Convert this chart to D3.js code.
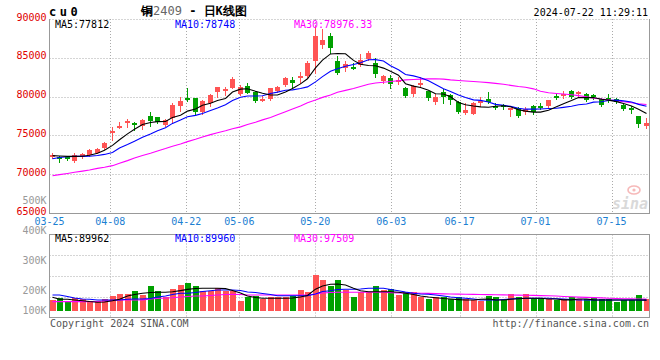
<!DOCTYPE html>
<html>
<head>
<meta charset="utf-8">
<script src="https://cdn.jsdelivr.net/npm/d3@7"></script>
<style>
  html, body { margin: 0; padding: 0; background: #fff; }
  svg { display: block; }
  text { font-family: 'DejaVu Sans Mono', 'Liberation Mono', monospace; }
</style>
</head>
<body>
<svg id="chart" width="660" height="360"></svg>
<script>
// trading days shown (cu0 daily K line)
const dates = [
  '03-25', '03-26', '03-27', '03-28', '03-29', '04-01', '04-02', '04-03',
  '04-08', '04-09', '04-10', '04-11', '04-12', '04-15', '04-16', '04-17', '04-18', '04-19',
  '04-22', '04-23', '04-24', '04-25', '04-26', '04-29', '04-30',
  '05-06', '05-07', '05-08', '05-09', '05-10', '05-13', '05-14', '05-15', '05-16', '05-17',
  '05-20', '05-21', '05-22', '05-23', '05-24', '05-27', '05-28', '05-29', '05-30', '05-31',
  '06-03', '06-04', '06-05', '06-06', '06-07', '06-11', '06-12', '06-13', '06-14',
  '06-17', '06-18', '06-19', '06-20', '06-21', '06-24', '06-25', '06-26', '06-27', '06-28',
  '07-01', '07-02', '07-03', '07-04', '07-05', '07-08', '07-09', '07-10', '07-11', '07-12',
  '07-15', '07-16', '07-17', '07-18', '07-19', '07-22'
]
const dateTicks = ['03-25', '04-08', '04-22', '05-06', '05-20', '06-03', '06-17', '07-01', '07-15']
const priceTicks = [90000, 85000, 80000, 75000, 70000, 65000]
const volumeTicks = [500, 400, 300, 200, 100]

const open = [
  72190, 72270, 72270, 71760, 72190, 72490, 72790, 73340, 75270, 76090,
  76640, 76640, 76220, 77500, 77330, 76340, 77200, 78790, 79820, 79770,
  77970, 79210, 80630, 80760, 81140, 80330, 81360, 80630, 79470, 79690,
  80710, 81490, 82130, 82470, 82640, 84610, 86630, 87780, 84570, 83630,
  83760, 84060, 84830, 84360, 82040, 82340, 81910, 81100, 80330, 81570,
  80710, 79340, 80640, 80210, 79360, 77910, 77790, 79150, 79700, 78850,
  78940, 78340, 78510, 78000, 78850, 78850, 78760, 80130, 80210, 80680,
  80380, 80280, 80190, 79680, 79850, 79680, 78900, 78480, 77530, 76240
]
const high = [
  72700, 72400, 72360, 72700, 72700, 73260, 73430, 74120, 76130, 76770,
  77070, 76770, 77070, 78010, 77420, 77160, 79130, 79990, 81060, 79860,
  79560, 80330, 81270, 81270, 82470, 81440, 81700, 80710, 80070, 81140,
  81400, 82560, 82470, 83200, 84570, 89050, 88770, 88150, 85210, 84570,
  84270, 85470, 85900, 84910, 82770, 82770, 82470, 81190, 81490, 82560,
  80710, 80330, 80980, 80340, 79490, 79150, 79280, 80000, 80550, 79150,
  79060, 78510, 78640, 78640, 78980, 79150, 79620, 80430, 80680, 80850,
  80680, 80400, 80330, 79850, 80280, 79800, 79030, 78780, 77530, 77190
]
const low = [
  72060, 71630, 71850, 71630, 72100, 72400, 72700, 73260, 74420, 75900,
  76060, 75700, 75780, 76220, 76560, 76220, 76770, 78190, 79470, 77760,
  77760, 78790, 79900, 80200, 81060, 80200, 80420, 79260, 79430, 79560,
  80630, 81400, 81060, 81700, 82560, 83000, 86200, 85570, 82860, 83290,
  83500, 83970, 84700, 82470, 81700, 81060, 81610, 79990, 80070, 81270,
  79560, 79040, 79150, 79060, 77910, 77790, 77700, 78850, 79150, 78420,
  78420, 77450, 77360, 77790, 77790, 78420, 78640, 79700, 79790, 79830,
  80000, 79400, 79700, 78770, 79250, 79150, 78260, 77830, 76110, 75980
]
const close = [
  72490, 71930, 72060, 72490, 72570, 73130, 73300, 73990, 75570, 76220,
  76900, 76300, 76990, 76900, 76770, 76990, 78910, 79430, 79560, 78060,
  79430, 80200, 81190, 80930, 82220, 81270, 80500, 79470, 79730, 81060,
  81270, 82430, 81780, 82640, 84360, 87800, 87270, 86290, 83070, 84190,
  83540, 84700, 85560, 82900, 82640, 81570, 82130, 80070, 81360, 81700,
  79770, 79990, 79910, 79570, 78000, 78300, 79150, 79400, 79280, 78640,
  78640, 78510, 77450, 78420, 78000, 78640, 79620, 79830, 80380, 80000,
  80550, 79550, 80060, 78905, 79680, 79250, 78390, 78350, 76420, 76550
]

const ma5 = [
  72400, 72350, 72300, 72300, 72310, 72440, 72710, 73100, 73710, 74440,
  75200, 75800, 76400, 76660, 76770, 76790, 77310, 77600, 78130, 78390,
  78880, 79140, 79490, 79760, 80590, 80960, 81020, 80680, 80440, 80210,
  80210, 80590, 81050, 81640, 82300, 83700, 84700, 85500, 85560, 85520,
  84670, 84160, 84010, 83980, 83670, 83270, 82760, 81660, 81350, 81170,
  80810, 80370, 80340, 79980, 79240, 78950, 78790, 78680, 78630, 78750,
  78820, 78690, 78300, 78130, 78000, 78000, 78230, 78700, 79090, 79490,
  79880, 79870, 79880, 79650, 79550, 79350, 79100, 78800, 78380, 77812
]
const ma10 = [
  72000, 72150, 72250, 72300, 72300, 72320, 72400, 72550, 72800, 73380,
  73820, 74250, 74750, 75190, 75610, 75990, 76550, 77000, 77400, 77580,
  77830, 78220, 78540, 78950, 79490, 79920, 80080, 80080, 80100, 80400,
  80580, 80810, 80870, 81040, 81250, 81900, 82580, 83260, 83600, 83910,
  84140, 84360, 84740, 84770, 84590, 83970, 83460, 82840, 82670, 82420,
  82040, 81570, 81000, 80670, 80200, 79880, 79580, 79510, 79300, 79000,
  78880, 78740, 78490, 78380, 78380, 78410, 78460, 78500, 78610, 78750,
  78940, 79050, 79290, 79340, 79490, 79550, 79450, 79300, 79000, 78748
]
const ma30 = [
  69800, 69950, 70100, 70250, 70400, 70550, 70750, 70900, 71100, 71400,
  71750, 72100, 72400, 72700, 73000, 73300, 73600, 73900, 74200, 74500,
  74800, 75100, 75350, 75600, 75850, 76100, 76400, 76700, 77000, 77300,
  77650, 78050, 78400, 78800, 79200, 79550, 79900, 80200, 80550, 80800,
  81050, 81300, 81600, 81750, 81850, 81950, 82050, 82150, 82200, 82250,
  82280, 82300, 82250, 82150, 82080, 82020, 81950, 81880, 81800, 81700,
  81600, 81450, 81300, 81200, 81000, 80700, 80500, 80400, 80330, 80230,
  80130, 79980, 79800, 79700, 79580, 79470, 79330, 79200, 79080, 78976.33
]

// volume, thousands of lots
const volume = [
  93, 110, 77, 111, 95, 86, 82, 99, 124, 140,
  140, 165, 132, 206, 165, 115, 181, 214, 233, 206,
  167, 167, 187, 167, 167, 85, 118, 126, 95, 115,
  119, 115, 124, 173, 156, 297, 255, 210, 255, 173,
  118, 154, 154, 208, 173, 181, 132, 154, 154, 118,
  99, 118, 118, 96, 118, 99, 91, 85, 126, 113,
  91, 140, 118, 140, 105, 105, 99, 91, 99, 113,
  99, 99, 105, 99, 99, 77, 91, 91, 132, 99
]
const volMa5 = [
  112.8, 96.4, 96.4, 90.6, 84.8, 78, 71.7, 74, 84.8, 96.4,
  123.6, 136, 145.8, 152.4, 154, 154, 158, 168, 178, 185,
  187, 187, 187, 184, 169, 148.3, 123.6, 111.2, 104.6, 104.6,
  104.6, 104.6, 107.1, 115.3, 127.7, 180, 205.9, 219.9, 222.4, 214.2,
  187, 167.2, 159, 159, 159, 159, 154, 145.8, 136, 123.6,
  115.3, 109.6, 103, 98.8, 94, 90.6, 90.6, 96.4, 98.8, 92,
  90.6, 96.4, 101.3, 104.6, 104.6, 104.6, 98.8, 98.8, 92, 92,
  98.8, 98.8, 92, 90.6, 90.6, 90.6, 90.6, 90.6, 90.6, 89.962
]
const volMa10 = [
  131.8, 131.8, 119.4, 107.1, 98.8, 96.4, 90.6, 90.6, 90.6, 90.6,
  96.4, 98.8, 98.8, 103, 115.3, 123.6, 135.9, 145.8, 145.8, 152.4,
  160.6, 167.2, 173, 173, 173, 168.9, 156.5, 152.4, 144.1, 135.9,
  126, 126, 126, 126, 126, 140, 160.6, 167.2, 177.1, 178.7,
  178.7, 181.2, 187, 187, 187, 177.1, 167.2, 156.5, 145.8, 140,
  137.6, 131.8, 123.6, 115.3, 109.6, 104.6, 98.8, 92, 90.6, 90.6,
  94.7, 98.8, 103, 104.6, 104.6, 104.6, 104.6, 101.3, 98.8, 94.7,
  90.6, 90.6, 90.6, 90.6, 90.6, 90.6, 90.6, 90.6, 90.6, 89.96
]
const volMa30 = [
  77, 77, 77, 77, 77, 77, 78.3, 82.4, 86.5, 90.6,
  90.6, 90.6, 92, 98.8, 103, 107.1, 109.6, 115.3, 119.4, 123.6,
  123.6, 127.7, 131.8, 135.9, 137.6, 135.9, 131.8, 131.8, 131.8, 131.8,
  131.8, 131.8, 131.8, 131.8, 131.8, 140, 148.3, 152.4, 154, 154,
  154, 154, 154, 154, 154, 151, 149, 148, 147, 146,
  145, 143, 141, 140, 139, 138, 137, 136, 135, 134,
  133, 132, 131, 130, 129, 127, 125, 123, 120, 117,
  114, 112, 110, 108, 105, 103, 101, 100, 98.6, 97.509
]

const RED = '#ff5454'
const GREEN = '#00a000'
const GRID = '#aaaaaa'
const FRAME = '#999999'

const svg = d3.select('#chart')
const left = 49.5, right = 649.5
const mainTop = 19, mainBottom = 213
const volTop = 234.5, volBottom = 317.5, volBase = 311

// candles sit in bands, grid/date ticks use a point scale (as on sina's chart)
const xBand = d3.scaleBand().domain(dates).range([48, right])
const xTick = d3.scalePoint().domain(dates).range([left, right])
const yPrice = d3.scaleLinear().domain([65000, 90000]).range([mainBottom, mainTop])
const yVol = d3.scaleLinear().domain([0, 630]).range([volBase, volTop])
const yVolLabel = d3.scaleLinear().domain([200, 500]).range([290, 200])
const cx = (d) => Math.round(xBand(d) + xBand.bandwidth() / 2)
const crisp = (v) => Math.round(v) + 0.5

// ---- header
svg.append('text').attr('x', 49).attr('y', 15.5).attr('font-size', 12).attr('font-weight', 700)
  .attr('letter-spacing', 3.5).attr('fill', '#000').text('cu0')
const title = svg.append('text').attr('x', 141).attr('y', 15).attr('font-size', 12)
  .attr('font-family', "'DejaVu Sans Mono', 'Noto Sans CJK SC', monospace")
title.append('tspan').attr('fill', '#000').attr('font-weight', 700).text('铜')
title.append('tspan').attr('fill', '#666').text('2409')
title.append('tspan').attr('fill', '#000').attr('font-weight', 700).text(' - 日K线图')
svg.append('text').attr('x', 648).attr('y', 15.5).attr('text-anchor', 'end').attr('font-size', 10)
  .attr('fill', '#000').text('2024-07-22 11:29:11')

// ---- main panel grid
const mainGrid = svg.append('g').attr('stroke', GRID).attr('stroke-dasharray', '1,2').attr('fill', 'none')
mainGrid.selectAll('line.h').data(priceTicks.slice(0, -1)).join('line').attr('class', 'h')
  .attr('x1', left).attr('x2', right).attr('y1', (v) => crisp(yPrice(v))).attr('y2', (v) => crisp(yPrice(v)))
mainGrid.selectAll('line.v').data(dateTicks.slice(1)).join('line').attr('class', 'v')
  .attr('x1', (d) => crisp(xTick(d))).attr('x2', (d) => crisp(xTick(d)))
  .attr('y1', mainTop).attr('y2', mainBottom)

const mainFrame = svg.append('g').attr('stroke', FRAME).attr('fill', 'none').attr('shape-rendering', 'crispEdges')
mainFrame.append('line').attr('x1', left).attr('x2', left).attr('y1', mainTop).attr('y2', crisp(mainBottom))
mainFrame.append('line').attr('x1', right).attr('x2', right).attr('y1', mainTop).attr('y2', crisp(mainBottom))
mainFrame.append('line').attr('x1', left).attr('x2', right).attr('y1', crisp(mainBottom)).attr('y2', crisp(mainBottom))

// watermark
const mark = svg.append('g').attr('opacity', 0.55)
mark.append('ellipse').attr('cx', 634).attr('cy', 190).attr('rx', 6).attr('ry', 4)
  .attr('fill', 'none').attr('stroke', '#f08080').attr('stroke-width', 1.6)
mark.append('circle').attr('cx', 634).attr('cy', 190).attr('r', 1.6).attr('fill', '#f08080')
mark.append('text').attr('x', 648).attr('y', 209).attr('text-anchor', 'end')
  .attr('font-family', "'DejaVu Sans', sans-serif").attr('font-style', 'italic').attr('font-weight', 700)
  .attr('font-size', 15).attr('fill', '#bbbbbb').text('sina')

// price axis labels
svg.append('g').selectAll('text').data(priceTicks).join('text')
  .attr('x', 46.5).attr('y', (v) => yPrice(v) + 1.5).attr('text-anchor', 'end')
  .attr('font-size', 10).attr('fill', '#e00000').text((v) => v)

// date labels
svg.append('g').selectAll('text').data(dateTicks).join('text')
  .attr('x', (d) => xTick(d)).attr('y', 224.5).attr('text-anchor', 'middle')
  .attr('font-size', 10).attr('fill', '#1c80d2').text((d) => d)

// ---- candles
const bars = dates.map((d, i) => ({ d, o: open[i], h: high[i], l: low[i], c: close[i], v: volume[i] }))
const candles = svg.append('g').attr('shape-rendering', 'crispEdges')
  .selectAll('g').data(bars).join('g')
  .attr('fill', (b) => (b.c >= b.o ? RED : GREEN)).attr('stroke', (b) => (b.c >= b.o ? RED : GREEN))
candles.append('line')
  .attr('x1', (b) => cx(b.d) + 0.5).attr('x2', (b) => cx(b.d) + 0.5)
  .attr('y1', (b) => Math.round(yPrice(b.h))).attr('y2', (b) => Math.round(yPrice(b.l)) + 1)
candles.append('rect')
  .attr('stroke', 'none')
  .attr('x', (b) => cx(b.d) - 2).attr('width', 5)
  .attr('y', (b) => Math.round(yPrice(Math.max(b.o, b.c))))
  .attr('height', (b) => Math.max(2, Math.round(yPrice(Math.min(b.o, b.c))) - Math.round(yPrice(Math.max(b.o, b.c)))))

// ---- price moving averages
const priceLine = d3.line().x((v, i) => cx(dates[i]) + 0.5).y((v) => yPrice(v))
const maSeries = [
  { name: 'MA5', values: ma5, color: '#000000', x: 55 },
  { name: 'MA10', values: ma10, color: '#0000ff', x: 175 },
  { name: 'MA30', values: ma30, color: '#ff00ff', x: 294 }
]
svg.append('g').attr('fill', 'none').selectAll('path').data(maSeries.slice().reverse()).join('path')
  .attr('stroke', (s) => s.color).attr('stroke-width', 1.1).attr('d', (s) => priceLine(s.values))
svg.append('g').selectAll('text').data(maSeries).join('text')
  .attr('x', (s) => s.x).attr('y', 27.5).attr('font-size', 10).attr('fill', (s) => s.color)
  .text((s) => `${s.name}:${s.values[s.values.length - 1]}`)

// ---- volume panel
const volGrid = svg.append('g').attr('stroke', GRID).attr('stroke-dasharray', '1,2').attr('fill', 'none')
volGrid.selectAll('line.h').data(d3.range(1, 4)).join('line').attr('class', 'h')
  .attr('x1', left).attr('x2', right)
  .attr('y1', (k) => crisp(volTop + (k * (volBottom - volTop)) / 4)).attr('y2', (k) => crisp(volTop + (k * (volBottom - volTop)) / 4))
volGrid.selectAll('line.v').data(dateTicks.slice(1)).join('line').attr('class', 'v')
  .attr('x1', (d) => crisp(xTick(d))).attr('x2', (d) => crisp(xTick(d)))
  .attr('y1', volTop).attr('y2', volBottom)

svg.append('g').attr('shape-rendering', 'crispEdges').selectAll('rect').data(bars).join('rect')
  .attr('x', (b) => cx(b.d) - 2.5).attr('width', 6)
  .attr('y', (b) => Math.round(yVol(b.v))).attr('height', (b) => volBase - Math.round(yVol(b.v)))
  .attr('fill', (b) => (b.c >= b.o ? RED : GREEN))

const volLine = d3.line().x((v, i) => cx(dates[i]) + 0.5).y((v) => yVol(v))
const volSeries = [
  { name: 'MA5', values: volMa5, color: '#000000', x: 55 },
  { name: 'MA10', values: volMa10, color: '#0000ff', x: 175 },
  { name: 'MA30', values: volMa30, color: '#ff00ff', x: 294 }
]
svg.append('g').attr('fill', 'none').selectAll('path').data(volSeries.slice().reverse()).join('path')
  .attr('stroke', (s) => s.color).attr('stroke-width', 1.1).attr('d', (s) => volLine(s.values))

svg.append('rect').attr('x', left).attr('y', volTop).attr('width', right - left).attr('height', volBottom - volTop)
  .attr('fill', 'none').attr('stroke', FRAME).attr('shape-rendering', 'crispEdges')

svg.append('g').selectAll('text').data(volSeries).join('text')
  .attr('x', (s) => s.x).attr('y', 242).attr('font-size', 10).attr('fill', (s) => s.color)
  .text((s) => `${s.name}:${Math.round(s.values[s.values.length - 1] * 1000)}`)

svg.append('g').selectAll('text').data(volumeTicks).join('text')
  .attr('x', 46.5).attr('y', (v) => Math.min(310, yVolLabel(v)) + 4.2).attr('text-anchor', 'end')
  .attr('font-size', 10).attr('fill', '#999999').text((v) => `${v}K`)

// ---- footer
svg.append('text').attr('x', 50).attr('y', 327).attr('font-size', 10).attr('fill', '#555')
  .text('Copyright 2024 SINA.COM')
svg.append('text').attr('x', 649).attr('y', 327).attr('text-anchor', 'end').attr('font-size', 10)
  .attr('fill', '#555').text('http://finance.sina.com.cn')
</script>
</body>
</html>
